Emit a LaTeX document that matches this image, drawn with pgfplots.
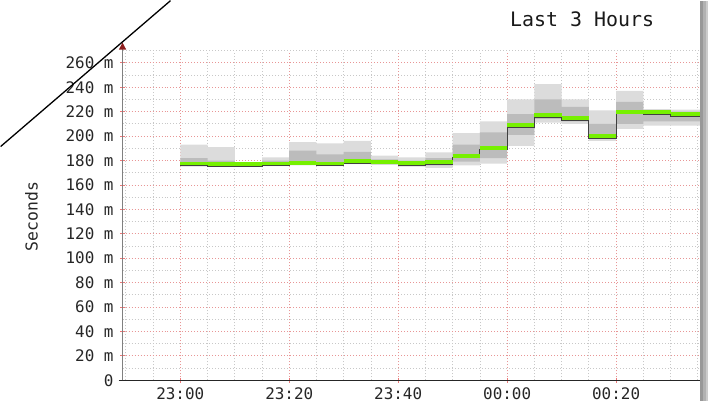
\documentclass[border=0pt]{standalone}
\usepackage{pgfplots}
\pgfplotsset{compat=1.18}
\usepackage{pgfplotstable}
\usepgfplotslibrary{fillbetween}
\usetikzlibrary{arrows.meta}
\usepackage{fontspec}
\setmainfont{DejaVu Sans Mono}
\definecolor{smokeA}{RGB}{220,220,220}
\definecolor{smokeB}{RGB}{188,188,188}
\definecolor{medgreen}{RGB}{118,240,0}
\definecolor{majgrid}{RGB}{232,150,150}
\definecolor{mingrid}{RGB}{200,200,200}
\definecolor{arrowred}{RGB}{140,30,30}
\pgfplotstableread{
x med olo ohi ilo ihi
0 177.5 175 193 176 182
5 177 175 191 175 180
10 177 175.5 178 176 178
15 177.5 175.5 182.5 176 180
20 178 176 195 177 188
25 177.5 175.5 194 176 185
30 179.3 177 196 178 187
35 179 176.5 184 177 181
40 177.7 175 182.6 176 180
45 178.5 174 186.7 176 182
50 184 176 202.5 179 193
55 190.3 177.5 212 182 203
60 209 192 230 201 218
65 217 211 242.6 214 230
70 214.5 210 230 212 224
75 199.8 196 221 198 210
80 220 206 237 210 228
85 219.4 208.5 222 212 221
90 217.8 208.5 221.6 212 220
95.4 217.8 208.5 221.6 212 220
}\data
\begin{document}
\begin{tikzpicture}
\begin{axis}[
  at={(122bp,21bp)}, anchor=south west,
  width=578bp, height=330bp, scale only axis,
  xmin=-10.6, xmax=95.4, ymin=0, ymax=270,
  axis x line=bottom, axis y line=left,
  x axis line style={black!85, line width=1.2bp, -, shorten <=-4bp},
  y axis line style={black!50, line width=1.3bp, -{Triangle[width=7bp,length=7bp,color=arrowred]}, shorten >=-8bp},
  xtick={0,20,40,60,80},
  xticklabels={23:00,23:20,23:40,00:00,00:20},
  minor xtick={-10,-5,5,10,15,25,30,35,45,50,55,65,70,75,85,90,95},
  ytick={0,20,...,260},
  yticklabels={0,20 m,40 m,60 m,80 m,100 m,120 m,140 m,160 m,180 m,200 m,220 m,240 m,260 m},
  minor ytick={10,30,...,270},
  grid=both,
  major grid style={majgrid, line width=0.8bp, dash pattern=on 1bp off 2bp},
  minor grid style={mingrid, line width=0.8bp, dash pattern=on 1bp off 2bp},
  major tick length=5bp, minor tick length=0bp,
  tick align=center,
  major tick style={majgrid!80!red, line width=0.8bp},
  tick label style={font=\fontsize{16}{19}\selectfont, text=black!85},
  /pgf/number format/assume math mode=true,
  xticklabel style={yshift=-1bp},
  yticklabel style={xshift=-3bp},
]
\addplot[name path=ohi, const plot mark left, draw=none, forget plot] table[x=x, y=ohi] {\data};
\addplot[name path=olo, const plot mark left, draw=none, forget plot] table[x=x, y=olo] {\data};
\addplot[smokeA, draw=none, forget plot] fill between[of=ohi and olo];
\addplot[name path=ihi, const plot mark left, draw=none, forget plot] table[x=x, y=ihi] {\data};
\addplot[name path=ilo, const plot mark left, draw=none, forget plot] table[x=x, y=ilo] {\data};
\addplot[smokeB, draw=none, forget plot] fill between[of=ihi and ilo];
\addplot[const plot mark left, black!75, line width=1bp, forget plot] table[x=x, y expr=\thisrow{med}-1.6] {\data};
\addplot[jump mark left, medgreen, line width=3.8bp, forget plot] table[x=x, y=med] {\data};
\end{axis}
\fill[black!40] (700bp,0) rectangle (703bp,401bp);
\fill[black!30] (703bp,0) rectangle (706bp,401bp);
\fill[black!20] (706bp,0) rectangle (708bp,401bp);
\draw[line width=1.3bp] (0,255bp) -- (170bp,401bp);
\node[font=\fontsize{20}{24}\selectfont, text=black!90] at (582bp,382bp) {Last 3 Hours};
\node[font=\fontsize{16.5}{19}\selectfont, text=black!85, rotate=90] at (31bp,185bp) {Seconds};
\path (0,0) rectangle (708bp,401bp);
\end{tikzpicture}
\end{document}
